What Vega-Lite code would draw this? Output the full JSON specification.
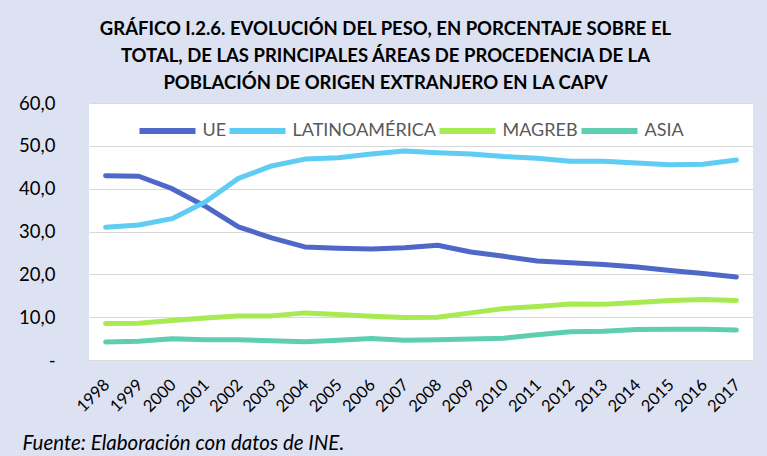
{
  "$schema": "https://vega.github.io/schema/vega-lite/v6.json",
  "width": 664,
  "height": 257,
  "autosize": {"type": "none"},
  "padding": {"left": 89, "top": 103, "right": 14, "bottom": 96},
  "background": "#DDE2F3",
  "config": {
    "view": {"fill": "#FFFFFF", "stroke": null},
    "font": "Lato"
  },
  "title": {
    "text": ["GRÁFICO I.2.6. EVOLUCIÓN DEL PESO, EN PORCENTAJE SOBRE EL", "TOTAL, DE LAS PRINCIPALES ÁREAS DE PROCEDENCIA DE LA", "POBLACIÓN DE ORIGEN EXTRANJERO EN LA CAPV"],
    "anchor": "middle",
    "dx": -35.5,
    "fontSize": 18.5,
    "fontWeight": "bold",
    "font": "Lato",
    "color": "#000000",
    "lineHeight": 27.3,
    "offset": 1
  },
  "data": {
    "values": [
      {"year": "1998", "area": "UE", "value": 43.0},
      {"year": "1999", "area": "UE", "value": 42.9},
      {"year": "2000", "area": "UE", "value": 40.0},
      {"year": "2001", "area": "UE", "value": 35.9},
      {"year": "2002", "area": "UE", "value": 31.1},
      {"year": "2003", "area": "UE", "value": 28.5},
      {"year": "2004", "area": "UE", "value": 26.4},
      {"year": "2005", "area": "UE", "value": 26.1},
      {"year": "2006", "area": "UE", "value": 25.9},
      {"year": "2007", "area": "UE", "value": 26.2},
      {"year": "2008", "area": "UE", "value": 26.8},
      {"year": "2009", "area": "UE", "value": 25.2},
      {"year": "2010", "area": "UE", "value": 24.2},
      {"year": "2011", "area": "UE", "value": 23.1},
      {"year": "2012", "area": "UE", "value": 22.7},
      {"year": "2013", "area": "UE", "value": 22.3},
      {"year": "2014", "area": "UE", "value": 21.7},
      {"year": "2015", "area": "UE", "value": 20.9},
      {"year": "2016", "area": "UE", "value": 20.2},
      {"year": "2017", "area": "UE", "value": 19.4},
      {"year": "1998", "area": "LATINOAMÉRICA", "value": 31.0},
      {"year": "1999", "area": "LATINOAMÉRICA", "value": 31.5},
      {"year": "2000", "area": "LATINOAMÉRICA", "value": 33.0},
      {"year": "2001", "area": "LATINOAMÉRICA", "value": 36.9},
      {"year": "2002", "area": "LATINOAMÉRICA", "value": 42.4},
      {"year": "2003", "area": "LATINOAMÉRICA", "value": 45.3},
      {"year": "2004", "area": "LATINOAMÉRICA", "value": 46.9},
      {"year": "2005", "area": "LATINOAMÉRICA", "value": 47.2},
      {"year": "2006", "area": "LATINOAMÉRICA", "value": 48.1},
      {"year": "2007", "area": "LATINOAMÉRICA", "value": 48.8},
      {"year": "2008", "area": "LATINOAMÉRICA", "value": 48.4},
      {"year": "2009", "area": "LATINOAMÉRICA", "value": 48.1},
      {"year": "2010", "area": "LATINOAMÉRICA", "value": 47.5},
      {"year": "2011", "area": "LATINOAMÉRICA", "value": 47.1},
      {"year": "2012", "area": "LATINOAMÉRICA", "value": 46.4},
      {"year": "2013", "area": "LATINOAMÉRICA", "value": 46.4},
      {"year": "2014", "area": "LATINOAMÉRICA", "value": 46.0},
      {"year": "2015", "area": "LATINOAMÉRICA", "value": 45.6},
      {"year": "2016", "area": "LATINOAMÉRICA", "value": 45.7},
      {"year": "2017", "area": "LATINOAMÉRICA", "value": 46.7},
      {"year": "1998", "area": "MAGREB", "value": 8.5},
      {"year": "1999", "area": "MAGREB", "value": 8.6},
      {"year": "2000", "area": "MAGREB", "value": 9.2},
      {"year": "2001", "area": "MAGREB", "value": 9.8},
      {"year": "2002", "area": "MAGREB", "value": 10.3},
      {"year": "2003", "area": "MAGREB", "value": 10.3},
      {"year": "2004", "area": "MAGREB", "value": 11.0},
      {"year": "2005", "area": "MAGREB", "value": 10.6},
      {"year": "2006", "area": "MAGREB", "value": 10.2},
      {"year": "2007", "area": "MAGREB", "value": 9.9},
      {"year": "2008", "area": "MAGREB", "value": 10.0},
      {"year": "2009", "area": "MAGREB", "value": 11.0},
      {"year": "2010", "area": "MAGREB", "value": 12.0},
      {"year": "2011", "area": "MAGREB", "value": 12.5},
      {"year": "2012", "area": "MAGREB", "value": 13.1},
      {"year": "2013", "area": "MAGREB", "value": 13.0},
      {"year": "2014", "area": "MAGREB", "value": 13.4},
      {"year": "2015", "area": "MAGREB", "value": 13.9},
      {"year": "2016", "area": "MAGREB", "value": 14.1},
      {"year": "2017", "area": "MAGREB", "value": 13.9},
      {"year": "1998", "area": "ASIA", "value": 4.2},
      {"year": "1999", "area": "ASIA", "value": 4.4},
      {"year": "2000", "area": "ASIA", "value": 4.95},
      {"year": "2001", "area": "ASIA", "value": 4.7},
      {"year": "2002", "area": "ASIA", "value": 4.7},
      {"year": "2003", "area": "ASIA", "value": 4.5},
      {"year": "2004", "area": "ASIA", "value": 4.25},
      {"year": "2005", "area": "ASIA", "value": 4.6},
      {"year": "2006", "area": "ASIA", "value": 5.0},
      {"year": "2007", "area": "ASIA", "value": 4.6},
      {"year": "2008", "area": "ASIA", "value": 4.7},
      {"year": "2009", "area": "ASIA", "value": 4.9},
      {"year": "2010", "area": "ASIA", "value": 5.1},
      {"year": "2011", "area": "ASIA", "value": 5.9},
      {"year": "2012", "area": "ASIA", "value": 6.6},
      {"year": "2013", "area": "ASIA", "value": 6.7},
      {"year": "2014", "area": "ASIA", "value": 7.1},
      {"year": "2015", "area": "ASIA", "value": 7.2},
      {"year": "2016", "area": "ASIA", "value": 7.2},
      {"year": "2017", "area": "ASIA", "value": 7.0}
    ]
  },
  "mark": {"type": "line", "strokeWidth": 5, "strokeCap": "round", "strokeJoin": "round"},
  "encoding": {
    "x": {
      "field": "year",
      "type": "ordinal",
      "scale": {"type": "point", "padding": 0.5},
      "axis": {
        "labelAngle": -45,
        "labelAlign": "right",
        "labelBaseline": "middle",
        "labelPadding": 22,
        "labelOffset": 1,
        "labelFontSize": 16.5,
        "labelColor": "#000000",
        "labelFont": "Lato",
        "ticks": false,
        "domain": false,
        "grid": false,
        "title": "Fuente: Elaboración con datos de INE.",
        "titleFont": "Lato",
        "titleFontSize": 20.5,
        "titleFontStyle": "italic",
        "titleFontWeight": "normal",
        "titleColor": "#000000",
        "titleAlign": "left",
        "titleAnchor": null,
        "titleX": -67,
        "titleY": 89,
        "titleBaseline": "alphabetic"
      }
    },
    "y": {
      "field": "value",
      "type": "quantitative",
      "scale": {"domain": [0, 60], "nice": false, "zero": true},
      "axis": {
        "values": [0, 10, 20, 30, 40, 50, 60],
        "labelExpr": "datum.value == 0 ? '-' : replace(format(datum.value, '.1f'), '.', ',')",
        "labelFontSize": 18.5,
        "labelColor": "#000000",
        "labelFont": "Lato",
        "labelPadding": 34,
        "ticks": false,
        "domain": false,
        "gridColor": "#D9D9D9",
        "gridWidth": 1,
        "title": null
      }
    },
    "color": {
      "field": "area",
      "type": "nominal",
      "scale": {
        "domain": ["UE", "LATINOAMÉRICA", "MAGREB", "ASIA"],
        "range": ["#4E67C8", "#5ECCF3", "#A7EA52", "#5DCEAF"]
      },
      "legend": {
        "orient": "none",
        "legendX": 47.5,
        "legendY": -3,
        "direction": "horizontal",
        "title": null,
        "symbolType": "stroke",
        "symbolSize": 3136,
        "symbolStrokeWidth": 6,
        "labelFontSize": 18,
        "labelFont": "Lato",
        "labelColor": "#595959",
        "labelOffset": 4,
        "columnPadding": -11
      }
    }
  }
}
